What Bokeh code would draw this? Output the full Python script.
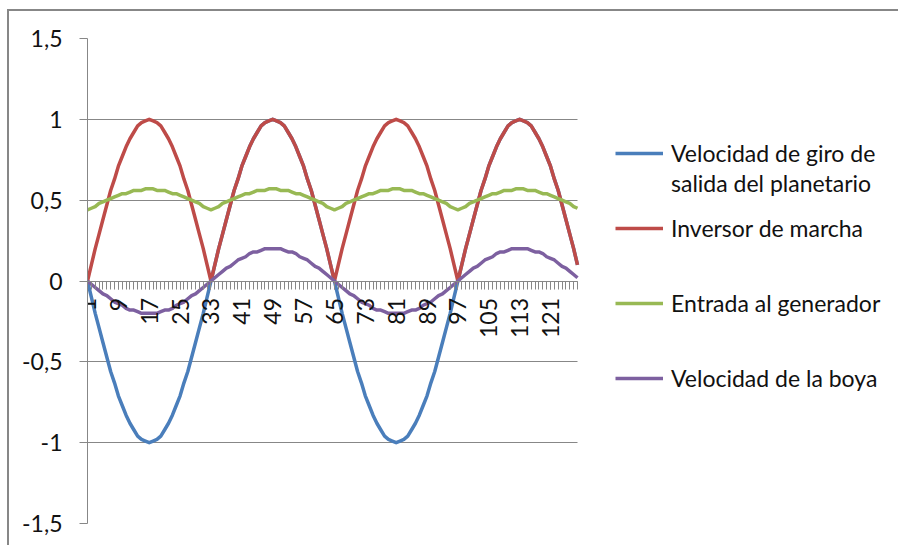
import math

from bokeh.plotting import figure
from bokeh.models import Range1d, FixedTicker, Legend, LegendItem
from bokeh.embed import file_html
from bokeh.resources import INLINE

# Sample numbers on the category axis
muestra = list(range(1, 129))

# Velocidad de giro de salida del planetario
vel_planetario = [
    0.00, -0.10, -0.20, -0.29, -0.38, -0.47, -0.56, -0.63, -0.71, -0.77, -0.83, -0.88, -0.92, -0.96, -0.98, -0.99,
    -1.00, -0.99, -0.98, -0.96, -0.92, -0.88, -0.83, -0.77, -0.71, -0.63, -0.56, -0.47, -0.38, -0.29, -0.20, -0.10,
    0.00, 0.10, 0.20, 0.29, 0.38, 0.47, 0.56, 0.63, 0.71, 0.77, 0.83, 0.88, 0.92, 0.96, 0.98, 0.99,
    1.00, 0.99, 0.98, 0.96, 0.92, 0.88, 0.83, 0.77, 0.71, 0.63, 0.56, 0.47, 0.38, 0.29, 0.20, 0.10,
    0.00, -0.10, -0.20, -0.29, -0.38, -0.47, -0.56, -0.63, -0.71, -0.77, -0.83, -0.88, -0.92, -0.96, -0.98, -0.99,
    -1.00, -0.99, -0.98, -0.96, -0.92, -0.88, -0.83, -0.77, -0.71, -0.63, -0.56, -0.47, -0.38, -0.29, -0.20, -0.10,
    0.00, 0.10, 0.20, 0.29, 0.38, 0.47, 0.56, 0.63, 0.71, 0.77, 0.83, 0.88, 0.92, 0.96, 0.98, 0.99,
    1.00, 0.99, 0.98, 0.96, 0.92, 0.88, 0.83, 0.77, 0.71, 0.63, 0.56, 0.47, 0.38, 0.29, 0.20, 0.10,
]

# Inversor de marcha
inversor = [
    0.00, 0.10, 0.20, 0.29, 0.38, 0.47, 0.56, 0.63, 0.71, 0.77, 0.83, 0.88, 0.92, 0.96, 0.98, 0.99,
    1.00, 0.99, 0.98, 0.96, 0.92, 0.88, 0.83, 0.77, 0.71, 0.63, 0.56, 0.47, 0.38, 0.29, 0.20, 0.10,
    0.00, 0.10, 0.20, 0.29, 0.38, 0.47, 0.56, 0.63, 0.71, 0.77, 0.83, 0.88, 0.92, 0.96, 0.98, 0.99,
    1.00, 0.99, 0.98, 0.96, 0.92, 0.88, 0.83, 0.77, 0.71, 0.63, 0.56, 0.47, 0.38, 0.29, 0.20, 0.10,
    0.00, 0.10, 0.20, 0.29, 0.38, 0.47, 0.56, 0.63, 0.71, 0.77, 0.83, 0.88, 0.92, 0.96, 0.98, 0.99,
    1.00, 0.99, 0.98, 0.96, 0.92, 0.88, 0.83, 0.77, 0.71, 0.63, 0.56, 0.47, 0.38, 0.29, 0.20, 0.10,
    0.00, 0.10, 0.20, 0.29, 0.38, 0.47, 0.56, 0.63, 0.71, 0.77, 0.83, 0.88, 0.92, 0.96, 0.98, 0.99,
    1.00, 0.99, 0.98, 0.96, 0.92, 0.88, 0.83, 0.77, 0.71, 0.63, 0.56, 0.47, 0.38, 0.29, 0.20, 0.10,
]

# Entrada al generador
entrada_generador = [
    0.44, 0.45, 0.46, 0.48, 0.49, 0.50, 0.51, 0.52, 0.53, 0.54, 0.54, 0.55, 0.56, 0.56, 0.56, 0.57,
    0.57, 0.57, 0.56, 0.56, 0.56, 0.55, 0.54, 0.54, 0.53, 0.52, 0.51, 0.50, 0.49, 0.48, 0.46, 0.45,
    0.44, 0.45, 0.46, 0.48, 0.49, 0.50, 0.51, 0.52, 0.53, 0.54, 0.54, 0.55, 0.56, 0.56, 0.56, 0.57,
    0.57, 0.57, 0.56, 0.56, 0.56, 0.55, 0.54, 0.54, 0.53, 0.52, 0.51, 0.50, 0.49, 0.48, 0.46, 0.45,
    0.44, 0.45, 0.46, 0.48, 0.49, 0.50, 0.51, 0.52, 0.53, 0.54, 0.54, 0.55, 0.56, 0.56, 0.56, 0.57,
    0.57, 0.57, 0.56, 0.56, 0.56, 0.55, 0.54, 0.54, 0.53, 0.52, 0.51, 0.50, 0.49, 0.48, 0.46, 0.45,
    0.44, 0.45, 0.46, 0.48, 0.49, 0.50, 0.51, 0.52, 0.53, 0.54, 0.54, 0.55, 0.56, 0.56, 0.56, 0.57,
    0.57, 0.57, 0.56, 0.56, 0.56, 0.55, 0.54, 0.54, 0.53, 0.52, 0.51, 0.50, 0.49, 0.48, 0.46, 0.45,
]

# Velocidad de la boya
vel_boya = [
    0.00, -0.02, -0.04, -0.06, -0.08, -0.09, -0.11, -0.13, -0.14, -0.15, -0.17, -0.18, -0.18, -0.19, -0.20, -0.20,
    -0.20, -0.20, -0.20, -0.19, -0.18, -0.18, -0.17, -0.15, -0.14, -0.13, -0.11, -0.09, -0.08, -0.06, -0.04, -0.02,
    0.00, 0.02, 0.04, 0.06, 0.08, 0.09, 0.11, 0.13, 0.14, 0.15, 0.17, 0.18, 0.18, 0.19, 0.20, 0.20,
    0.20, 0.20, 0.20, 0.19, 0.18, 0.18, 0.17, 0.15, 0.14, 0.13, 0.11, 0.09, 0.08, 0.06, 0.04, 0.02,
    0.00, -0.02, -0.04, -0.06, -0.08, -0.09, -0.11, -0.13, -0.14, -0.15, -0.17, -0.18, -0.18, -0.19, -0.20, -0.20,
    -0.20, -0.20, -0.20, -0.19, -0.18, -0.18, -0.17, -0.15, -0.14, -0.13, -0.11, -0.09, -0.08, -0.06, -0.04, -0.02,
    0.00, 0.02, 0.04, 0.06, 0.08, 0.09, 0.11, 0.13, 0.14, 0.15, 0.17, 0.18, 0.18, 0.19, 0.20, 0.20,
    0.20, 0.20, 0.20, 0.19, 0.18, 0.18, 0.17, 0.15, 0.14, 0.13, 0.11, 0.09, 0.08, 0.06, 0.04, 0.02,
]

y_ticks = [-1.5, -1, -0.5, 0, 0.5, 1, 1.5]
y_tick_labels = ["-1,5", "-1", "-0,5", "0", "0,5", "1", "1,5"]
x_label_ticks = list(range(1, 129, 8))

FONT = "Lato"
GRAY = "#878787"

# Canvas layout in px: the data area is 490 px wide, the rest of the frame
# to its right holds the legend; the chart area runs on past the right edge.
CANVAS_W, CANVAS_H = 910, 536
BORDER_L, BORDER_T, BORDER_B = 78, 27, 24
DATA_W = 490
FRAME_W = CANVAS_W - BORDER_L
FRAME_H = CANVAS_H - BORDER_T - BORDER_B

x_first, x_last = muestra[0], muestra[-1]
x_end = x_first + (x_last - x_first) * FRAME_W / DATA_W

p = figure(
    width=CANVAS_W, height=CANVAS_H,
    x_range=Range1d(x_first, x_end), y_range=Range1d(-1.5, 1.5),
    output_backend="svg", toolbar_location=None,
    min_border_left=BORDER_L, min_border_right=0,
    min_border_top=BORDER_T, min_border_bottom=BORDER_B,
)
# chart-area border on the left and top edges
p.styles = {
    "margin-left": "9px", "margin-top": "11px",
    "box-shadow": f"-2px -2px 0 0 {GRAY}",
    "overflow": "hidden",
}
p.outline_line_color = None
p.background_fill_color = "white"
p.border_fill_color = "white"

# horizontal gridlines only, spanning the data area
p.xgrid.visible = False
p.ygrid.ticker = FixedTicker(ticks=y_ticks)
p.ygrid.cross_bounds = (x_first, x_last)
p.ygrid.grid_line_color = GRAY
p.ygrid.grid_line_width = 1

# value axis
p.yaxis.ticker = FixedTicker(ticks=y_ticks)
p.yaxis.major_label_overrides = dict(zip(y_ticks, y_tick_labels))
p.yaxis.axis_line_color = GRAY
p.yaxis.major_tick_line_color = GRAY
p.yaxis.major_tick_out = 8
p.yaxis.major_tick_in = 0
p.yaxis.minor_tick_line_color = None
p.yaxis.major_label_text_font = FONT
p.yaxis.major_label_text_font_size = "23px"
p.yaxis.major_label_text_color = "#111111"
p.yaxis.major_label_standoff = 17

# category axis crossing at zero
p.xaxis.fixed_location = 0
p.xaxis.bounds = (x_first, x_last)
p.xaxis.ticker = FixedTicker(ticks=x_label_ticks, minor_ticks=muestra)
p.xaxis.axis_line_color = GRAY
p.xaxis.major_tick_line_color = GRAY
p.xaxis.minor_tick_line_color = GRAY
p.xaxis.major_tick_out = 8
p.xaxis.major_tick_in = 0
p.xaxis.minor_tick_out = 8
p.xaxis.minor_tick_in = 0
p.xaxis.major_label_orientation = math.pi / 2
p.xaxis.major_label_text_font = FONT
p.xaxis.major_label_text_font_size = "23px"
p.xaxis.major_label_text_color = "#111111"
p.xaxis.major_label_standoff = 9

series = [
    (vel_planetario, "#4a7ebb"),
    (inversor, "#be4b48"),
    (entrada_generador, "#98b954"),
    (vel_boya, "#7d60a0"),
]
renderers = []
for vals, color in series:
    r = p.line(muestra, vals, line_color=color, line_width=3.5, line_join="round")
    renderers.append(r)

# legend entries: (label, renderer or None, centre offset from the frame top in px)
ITEM_H = 30
entries = [
    ("Velocidad de giro de", renderers[0], 115),
    ("salida del planetario", None, 145),
    ("Inversor de marcha", renderers[1], 190),
    ("Entrada al generador", renderers[2], 265),
    ("Velocidad de la boya", renderers[3], 340),
]
for label, rend, centre in entries:
    item = LegendItem(label=label, renderers=[rend] if rend is not None else [])
    leg = Legend(
        items=[item],
        location=(DATA_W + 38, FRAME_H - centre - ITEM_H // 2),
        orientation="vertical",
        glyph_width=48, glyph_height=ITEM_H, label_height=ITEM_H,
        label_standoff=8, padding=0, margin=0, spacing=0,
        border_line_color=None, background_fill_alpha=0,
        label_text_font=FONT, label_text_font_size="23px",
        label_text_color="#111111",
        click_policy="none",
    )
    p.add_layout(leg, "center")

open("out.html", "w").write(file_html(p, INLINE, title="Velocidades"))
